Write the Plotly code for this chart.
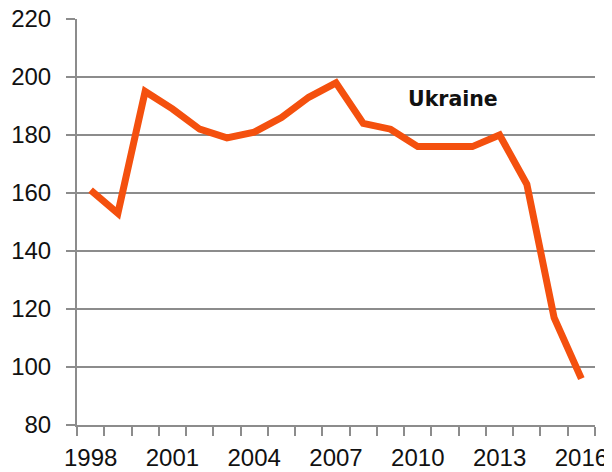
import plotly.graph_objects as go

years = list(range(1998, 2017))
values = [161, 153, 195, 189, 182, 179, 181, 186, 193, 198, 184, 182, 176, 176, 176, 180, 163, 117, 96]
tick_years = [1998, 2001, 2004, 2007, 2010, 2013, 2016]
series_name = "Ukraine"

grid = "#8c8c8c"
fig = go.Figure()
fig.add_trace(go.Scatter(x=years, y=values, mode="lines", name=series_name,
                         line=dict(color="#F4500E", width=7), showlegend=False))

fig.add_annotation(x=2011.3, y=192.4, text="<b>Ukraine</b>", showarrow=False,
                   font=dict(family="DejaVu Sans", size=20.5, color="#111111"))

fig.update_layout(
    width=612, height=472,
    margin=dict(l=69, r=25, t=11, b=55),
    paper_bgcolor="white", plot_bgcolor="white",
    font=dict(family="Liberation Sans", size=24, color="#111111"),
)
fig.update_xaxes(
    range=[1997.5, 2016.5], tickvals=tick_years, ticktext=[str(y) for y in tick_years],
    ticks="", showgrid=False, showline=True, linecolor=grid, linewidth=2,
    zeroline=False, automargin=False, ticklabelstandoff=10, ticklabeloverflow="allow",
    minor=dict(tickvals=[y - 0.5 for y in years] + [2016.5], ticks="outside",
               ticklen=9, tickcolor=grid, tickwidth=2, showgrid=False),
)
fig.update_yaxes(
    range=[80, 220], dtick=20, showgrid=True, gridcolor=grid, gridwidth=2,
    ticks="outside", ticklen=9, tickcolor=grid, tickwidth=2, automargin=False,
    showline=True, linecolor=grid, linewidth=2, zeroline=False,
    ticklabelstandoff=10, ticklabeloverflow="allow",
)
fig.write_html("out.html")
